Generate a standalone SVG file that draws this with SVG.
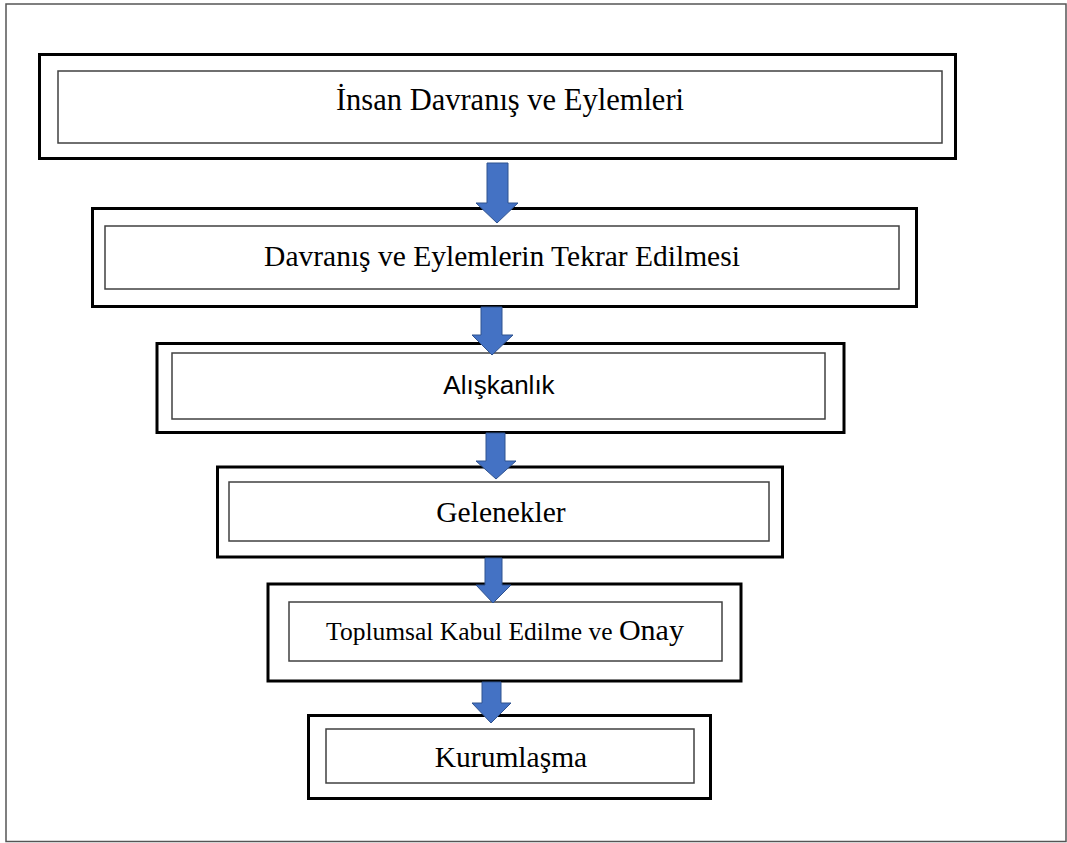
<svg xmlns="http://www.w3.org/2000/svg" width="1067" height="843" viewBox="0 0 1067 843">
<style>
.frame{fill:#fff;stroke:#555;stroke-width:1.5}
.outer{fill:#fff;stroke:#000;stroke-width:3}
.inner{fill:#fff;stroke:#404040;stroke-width:1.5}
.t{font-family:"Liberation Serif","Times New Roman",serif;font-size:29.5px;fill:#000;text-anchor:middle}
.s{font-family:"Liberation Sans",Arial,sans-serif;font-size:26px;fill:#000;text-anchor:middle}
.arr{fill:#4472C4;stroke:#2F528F;stroke-width:1}
</style>
<rect class="frame" x="6" y="4" width="1060" height="837.5"/>
<g id="n1"><rect class="outer" x="39.5" y="54.5" width="916" height="104"/><rect class="inner" x="58" y="71" width="884" height="72"/><text class="t" x="510" y="110" style="font-size:30.5px">İnsan Davranış ve Eylemleri</text></g>
<g id="n2"><rect class="outer" x="92.5" y="208.5" width="824" height="98"/><rect class="inner" x="105" y="226" width="794" height="63"/><text class="t" x="502" y="266">Davranış ve Eylemlerin Tekrar Edilmesi</text></g>
<g id="n3"><rect class="outer" x="157" y="343.5" width="687" height="89"/><rect class="inner" x="172" y="353" width="653" height="66"/><text class="s" x="499" y="394">Alışkanlık</text></g>
<g id="n4"><rect class="outer" x="217.5" y="467" width="565" height="90"/><rect class="inner" x="229" y="482" width="540" height="59"/><text class="t" x="501" y="522">Gelenekler</text></g>
<g id="n5"><rect class="outer" x="268" y="584" width="473" height="97"/><rect class="inner" x="289" y="602" width="433" height="59"/><text class="t" x="505" y="640" style="font-size:25.5px">Toplumsal Kabul Edilme ve <tspan style="font-size:30px">Onay</tspan></text></g>
<g id="n6"><rect class="outer" x="308.5" y="715.5" width="402" height="83"/><rect class="inner" x="326" y="729" width="368" height="54"/><text class="t" x="511" y="767">Kurumlaşma</text></g>
<g id="connectors">
<path class="arr" d="M487 163H508V203H518L497 223L476 203H487Z"/>
<path class="arr" d="M481 307H502V335H513L492 355L472 335H481Z"/>
<path class="arr" d="M486 433H505V461H516L496 479L476 461H486Z"/>
<path class="arr" d="M485 558H502V585H511L493 603L476 585H485Z"/>
<path class="arr" d="M482 682H501V703H511L491 723L472 703H482Z"/>
</g>
</svg>
